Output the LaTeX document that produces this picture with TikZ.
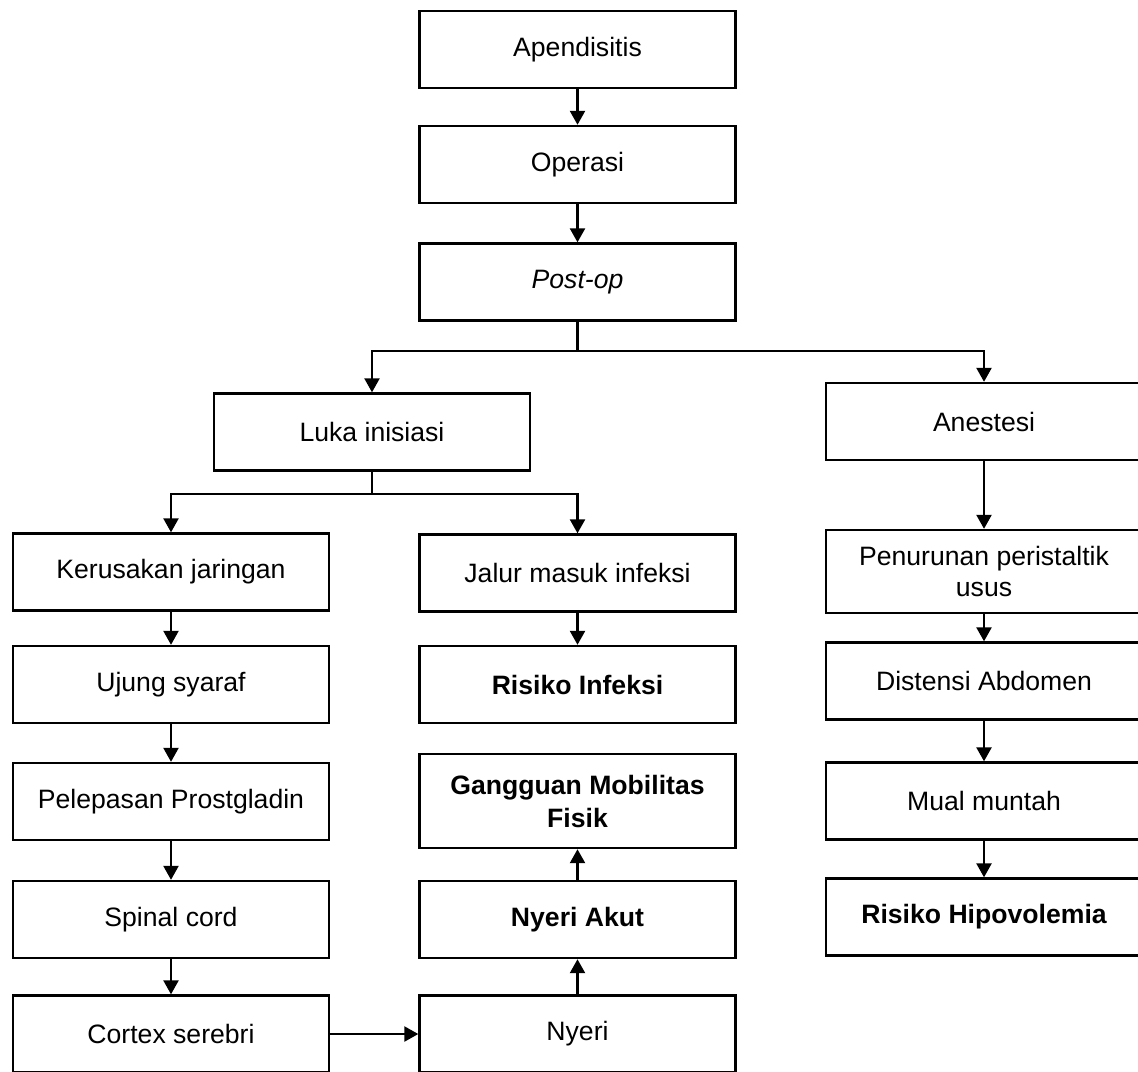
\documentclass[tikz,border=0pt]{standalone}
\usepackage{fontspec}
\setmainfont{Liberation Sans}
\usetikzlibrary{arrows.meta}

\begin{document}
\begin{tikzpicture}[
  x=0.5pt, y=-0.5pt,
  box/.style={draw, line width=1.2pt, align=center, minimum width=158pt, minimum height=38.5pt, inner sep=2pt, font=\fontsize{13.3}{15.5}\selectfont},
  diag/.style={box, font=\fontsize{13.3}{16.5}\selectfont\bfseries},
  line/.style={line width=1.2pt, -{Triangle[length=7pt, width=7.5pt]}},
  link/.style={line width=1.2pt}
]
\useasboundingbox (0,0) rectangle (1138,1071);

% Alur utama
\node[box] (apend) at (577.5,49.5) {Apendisitis};
\node[box] (oper) at (577.5,164.5) {Operasi};
\node[box] (postop) at (577.5,282) {\textit{Post-op}};

% Cabang luka dan anestesi
\node[box] (luka) at (372,432) {Luka inisiasi};
\node[box] (anest) at (984,421.5) {Anestesi};

% Kolom kiri
\node[box] (kerusakan) at (171,572) {Kerusakan jaringan};
\node[box] (ujung) at (171,684.5) {Ujung syaraf};
\node[box] (pelepasan) at (171,801.5) {Pelepasan Prostgladin};
\node[box] (spinal) at (171,919.5) {Spinal cord};
\node[box] (cortex) at (171,1034) {Cortex serebri};

% Kolom tengah
\node[box] (jalur) at (577.5,573) {Jalur masuk infeksi};
\node[diag] (infeksi) at (577.5,684.5) {Risiko Infeksi};
\node[diag, minimum height=47pt] (mobilitas) at (577.5,801) {Gangguan Mobilitas\\Fisik};
\node[diag] (akut) at (577.5,919.5) {Nyeri Akut};
\node[box] (nyeri) at (577.5,1034) {Nyeri};

% Kolom kanan
\node[box, minimum height=41.5pt] (turun) at (984,571.5) {Penurunan peristaltik\\usus};
\node[box] (distensi) at (984,681) {Distensi Abdomen};
\node[box] (mual) at (984,801) {Mual muntah};
\node[diag] (hipovolemia) at (984,917) {Risiko Hipovolemia};

% Titik percabangan
\coordinate (cab1) at (577.5,351);
\coordinate (cab2) at (372,494);

% Koneksi
\draw[line] (apend) -- (oper);
\draw[line] (oper) -- (postop);
\draw[link] (postop) -- (cab1);
\draw[line] (cab1) -| (luka);
\draw[line] (cab1) -| (anest);
\draw[link] (luka) -- (cab2);
\draw[line] (cab2) -| (kerusakan);
\draw[line] (cab2) -| (jalur);

\draw[line] (kerusakan) -- (ujung);
\draw[line] (ujung) -- (pelepasan);
\draw[line] (pelepasan) -- (spinal);
\draw[line] (spinal) -- (cortex);
\draw[line] (cortex) -- (nyeri);

\draw[line] (jalur) -- (infeksi);
\draw[line] (nyeri) -- (akut);
\draw[line] (akut) -- (mobilitas);

\draw[line] (anest) -- (turun);
\draw[line] (turun) -- (distensi);
\draw[line] (distensi) -- (mual);
\draw[line] (mual) -- (hipovolemia);

\end{tikzpicture}
\end{document}
